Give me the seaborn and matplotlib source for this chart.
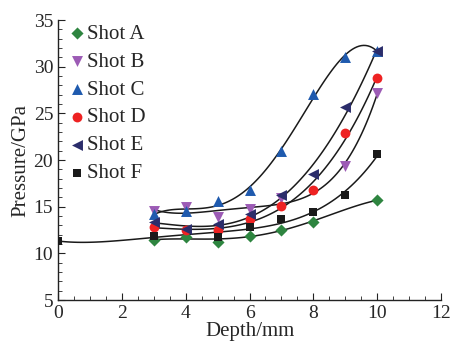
import matplotlib
matplotlib.use("Agg")
import matplotlib.pyplot as plt
from matplotlib.ticker import MultipleLocator
import seaborn as sns
import numpy as np

# data (depth in mm, pressure in GPa)
xA = [3, 4, 5, 6, 7, 8, 10]
yA = [11.4, 11.75, 11.25, 11.9, 12.55, 13.4, 15.7]
xB = [3, 4, 5, 6, 7, 9, 10]
yB = [14.5, 15.0, 13.9, 14.7, 15.9, 19.4, 27.2]
xC = [3, 4, 5, 6, 7, 8, 9, 10]
yC = [14.2, 14.5, 15.6, 16.8, 21.0, 27.1, 31.0, 31.7]
xD = [3, 4, 5, 6, 7, 8, 9, 10]
yD = [12.8, 12.5, 12.5, 13.7, 15.1, 16.8, 22.9, 28.8]
xE = [3, 4, 5, 6, 7, 8, 9, 10]
yE = [13.4, 12.6, 13.1, 14.2, 16.2, 18.5, 25.7, 31.7]
xF = [0, 3, 5, 6, 7, 8, 9, 10]
yF = [11.3, 11.9, 11.7, 12.8, 13.7, 14.4, 16.3, 20.6]

names = ["Shot A", "Shot B", "Shot C", "Shot D", "Shot E", "Shot F"]
xs = [xA, xB, xC, xD, xE, xF]
ys = [yA, yB, yC, yD, yE, yF]
orders = [4, 4, 4, 4, 4, 4]
markers = ["D", "v", "^", "o", "<", "s"]
colors = ["#2e8540", "#9c5bb5", "#1f5aae", "#ee2222", "#2b2d6b", "#1a1a1a"]
sizes = [38, 62, 62, 50, 62, 40]

sns.set_style("ticks")
plt.rcParams["font.family"] = ["Liberation Serif", "DejaVu Serif"]

fig = plt.figure(figsize=(4.51, 3.45), dpi=100)
ax = fig.add_axes([0.1286, 0.1304, 0.8494, 0.8116])

for i in range(6):
    # fitted curve
    sns.regplot(x=np.array(xs[i], float), y=np.array(ys[i], float), order=orders[i],
                scatter=False, ci=None, truncate=True, ax=ax,
                line_kws=dict(color="#1a1a1a", lw=1.1, zorder=2))
for i in range(6):
    sns.scatterplot(x=xs[i], y=ys[i], marker=markers[i], color=colors[i],
                    s=sizes[i], linewidth=0, ax=ax, label=names[i], zorder=3)

ax.set_xlim(0, 12)
ax.set_ylim(5, 35)
ax.xaxis.set_major_locator(MultipleLocator(2))
ax.xaxis.set_minor_locator(MultipleLocator(0.5))
ax.yaxis.set_major_locator(MultipleLocator(5))
ax.yaxis.set_minor_locator(MultipleLocator(1))
ax.tick_params(which="both", direction="in", labelsize=14, color="#222222")
ax.tick_params(which="major", length=5)
ax.tick_params(which="minor", length=3)
sns.despine(ax=ax)
for s in ["left", "bottom"]:
    ax.spines[s].set_linewidth(1.0)
    ax.spines[s].set_color("#222222")

ax.set_xlabel("Depth/mm", fontsize=15, labelpad=0)
ax.set_ylabel("Pressure/GPa", fontsize=15, labelpad=2)

ax.legend(loc="upper left", frameon=False, fontsize=15, handletextpad=0.0,
          labelspacing=0.4, borderaxespad=0.0, handlelength=1.0,
          bbox_to_anchor=(0.0, 1.015))

fig.savefig("out.png", dpi=100)
